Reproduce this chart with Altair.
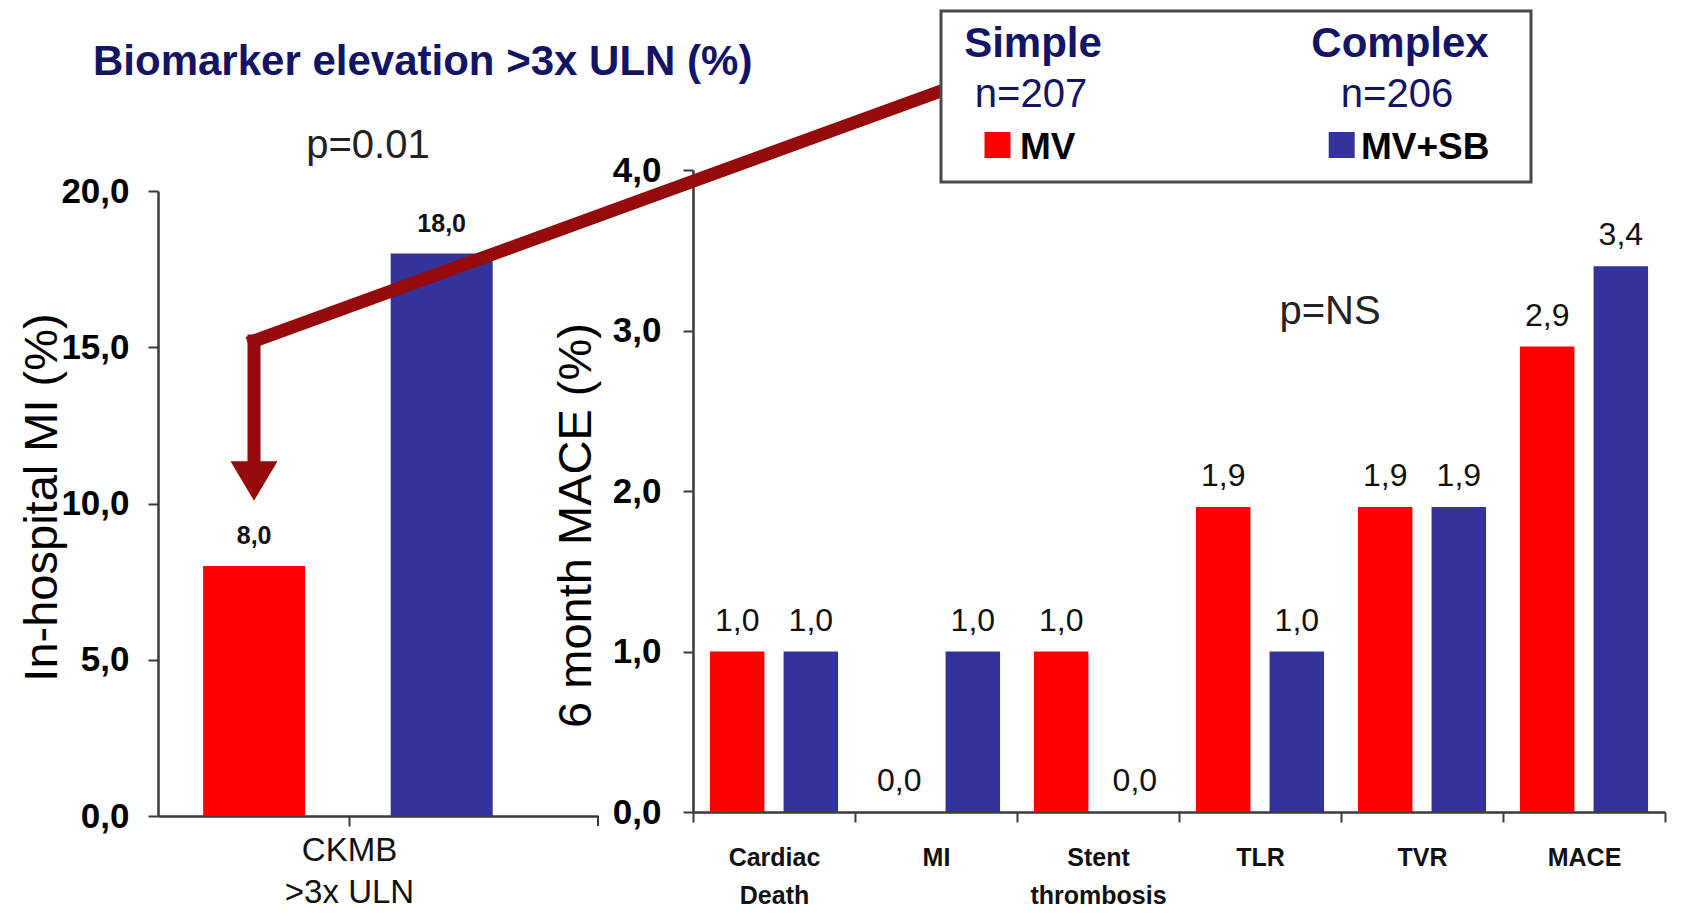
import altair as alt
import pandas as pd

# ---------------- data ----------------
groups = ["MV", "MV+SB"]
group_colors = ["#FF0000", "#333399"]

left_category = "CKMB\n>3x ULN"
left_values = [8.0, 18.0]          # MV, MV+SB

right_categories = ["Cardiac Death", "MI", "Stent thrombosis", "TLR", "TVR", "MACE"]
mv_values = [1.0, 0.0, 1.0, 1.9, 1.9, 2.9]
mvsb_values = [1.0, 1.0, 0.0, 1.0, 1.9, 3.4]

left_ticks = [0, 5, 10, 15, 20]
right_ticks = [0, 1, 2, 3, 4]

FONT = "Liberation Sans"
NARROW = "Liberation Sans Narrow, Liberation Sans"
NAVY = "#141464"
AXC = "#3a3a3a"
ARROW = "#950a0a"

left_df = pd.DataFrame({"cat": [left_category] * 2, "grp": groups, "val": left_values})
right_df = pd.DataFrame({
    "cat": right_categories * 2,
    "grp": [groups[0]] * len(right_categories) + [groups[1]] * len(right_categories),
    "val": mv_values + mvsb_values,
})

color = alt.Color("grp:N", scale=alt.Scale(domain=groups, range=group_colors), legend=None)
comma = "replace(format(datum.value, '.1f'), '.', ',')"
one = alt.Data(values=[{"k": 0}])
noview = alt.ViewBackground(stroke="transparent", strokeWidth=0)

WL, HL = 440, 646
WR, HR = 972, 642

# ---------------- left panel ----------------
lbase = alt.Chart(left_df).transform_calculate(
    lbl="replace(format(datum.val, '.1f'), '.', ',')"
).encode(
    x=alt.X("cat:N", scale=alt.Scale(paddingInner=0, paddingOuter=0),
            axis=alt.Axis(title=None, labelAngle=0, labelExpr="split(datum.label, '\\n')",
                          labelFont=FONT, labelFontSize=33, labelColor="#111",
                          labelLineHeight=42, labelPadding=8, tickOffset=-29,
                          tickSize=10, tickWidth=2, tickColor=AXC, grid=False,
                          domainColor=AXC, domainWidth=2.5)),
    xOffset=alt.XOffset("grp:N", scale=alt.Scale(domain=groups, paddingInner=0.456,
                                                  paddingOuter=0.401, align=0.3)),
    y=alt.Y("val:Q", scale=alt.Scale(domain=[0, 20], range=[HL, 21], nice=False, zero=True),
            axis=alt.Axis(values=left_ticks, labelExpr=comma, grid=False,
                          labelFont=FONT, labelFontWeight="bold", labelFontSize=35,
                          labelColor="#000", labelPadding=19,
                          tickSize=10, tickWidth=2, tickColor=AXC,
                          domainColor=AXC, domainWidth=2.5,
                          title="In-hospital MI (%)", titleFont=FONT, titleFontSize=47,
                          titleFontWeight="normal", titleColor="#000",
                          titleAngle=270, titleAlign="center", titleBaseline="middle",
                          titleX=-116, titleY=327)),
)
lbars = lbase.mark_bar().encode(color=color)
ltext = lbase.mark_text(dy=-22, baseline="alphabetic", font=FONT, fontWeight="bold",
                        fontSize=25, color="#111").encode(text="lbl:N")

lend_tick = alt.Chart(one).mark_rule(color=AXC, strokeWidth=2).encode(
    x=alt.value(WL), y=alt.value(HL), y2=alt.value(HL + 10))
lbound = alt.Chart(one).mark_rect(color="white").encode(
    x=alt.value(-149.7), x2=alt.value(-148), y=alt.value(-162), y2=alt.value(-160))
main_title = alt.Chart(one).mark_text(
    text="Biomarker elevation >3x ULN (%)", align="left", baseline="alphabetic",
    font=FONT, fontWeight="bold", fontSize=42, color=NAVY
).encode(x=alt.value(-65), y=alt.value(-95))
p_left = alt.Chart(one).mark_text(
    text="p=0.01", align="center", baseline="alphabetic", font=FONT, fontSize=40, color="#222"
).encode(x=alt.value(210), y=alt.value(-12))

left = alt.layer(lbound, lbars, ltext, lend_tick, main_title, p_left).properties(
    width=WL, height=HL, view=noview)

# ---------------- right panel ----------------
rbase = alt.Chart(right_df).transform_calculate(
    lbl="replace(format(datum.val, '.1f'), '.', ',')"
).encode(
    x=alt.X("cat:N", sort=right_categories, scale=alt.Scale(paddingInner=0, paddingOuter=0),
            axis=alt.Axis(title=None, labelAngle=0, labelExpr="split(datum.label, ' ')",
                          tickBand="extent", labelFont=FONT, labelFontWeight="bold",
                          labelFontSize=25, labelColor="#111", labelLineHeight=38,
                          labelPadding=23, tickSize=10, tickWidth=2, tickColor=AXC,
                          grid=False, domainColor=AXC, domainWidth=2.5)),
    xOffset=alt.XOffset("grp:N", scale=alt.Scale(domain=groups, paddingInner=0.26,
                                                  paddingOuter=0.23)),
    y=alt.Y("val:Q", scale=alt.Scale(domain=[0, 4], nice=False, zero=True),
            axis=alt.Axis(values=right_ticks, labelExpr=comma, grid=False,
                          labelFont=FONT, labelFontWeight="bold", labelFontSize=35,
                          labelColor="#000", labelPadding=22,
                          tickSize=10, tickWidth=2, tickColor=AXC,
                          domainColor=AXC, domainWidth=2.5,
                          title="6 month MACE (%)", titleFont=FONT, titleFontSize=47,
                          titleFontWeight="normal", titleColor="#000",
                          titleAngle=270, titleAlign="center", titleBaseline="middle",
                          titleX=-117, titleY=355)),
)
rbars = rbase.mark_bar().encode(color=color)
rtext = rbase.mark_text(dy=-21, baseline="alphabetic", font=NARROW, fontSize=32,
                        color="#111").encode(text="lbl:N")

p_right = alt.Chart(one).mark_text(
    text="p=NS", align="center", baseline="alphabetic", font=FONT, fontSize=40, color="#222"
).encode(x=alt.value(637), y=alt.value(154))

# annotation arrow (pixel positions relative to the right panel)
arrow_a = alt.Chart(one).mark_rule(color=ARROW, strokeWidth=13, strokeCap="square").encode(
    x=alt.value(248), y=alt.value(-79), x2=alt.value(-439), y2=alt.value(171))
arrow_b = alt.Chart(one).mark_rule(color=ARROW, strokeWidth=13, strokeCap="square").encode(
    x=alt.value(-439), y=alt.value(171), x2=alt.value(-439), y2=alt.value(296))
arrow_head = alt.Chart(one).mark_point(
    shape="M -1 -0.84 L 1 -0.84 L 0 0.84 Z", filled=True, color=ARROW, opacity=1, size=2209
).encode(x=alt.value(-439), y=alt.value(311))

# legend box
box = alt.Chart(one).mark_rect(fill="white", stroke="#4a4a4a", strokeWidth=3).encode(
    x=alt.value(248), x2=alt.value(838), y=alt.value(-159), y2=alt.value(12))


def ltxt(t, x, y, size, weight="normal", col=NAVY, align="center", font=FONT):
    return alt.Chart(one).mark_text(text=t, align=align, baseline="alphabetic", font=font,
                                    fontSize=size, fontWeight=weight, color=col).encode(
        x=alt.value(x), y=alt.value(y))


leg_df = pd.DataFrame({"grp": groups})
sq_mv = alt.Chart(leg_df).transform_filter(alt.datum.grp == groups[0]).mark_square(
    size=676, opacity=1).encode(x=alt.value(304.5), y=alt.value(-25), color=color)
sq_sb = alt.Chart(leg_df).transform_filter(alt.datum.grp == groups[1]).mark_square(
    size=676, opacity=1).encode(x=alt.value(648.7), y=alt.value(-25), color=color)

legend_layers = [
    box,
    ltxt("Simple", 340, -113, 42, "bold"),
    ltxt("n=207", 338, -63, 40),
    ltxt("Complex", 707, -113, 42, "bold"),
    ltxt("n=206", 704, -63, 40),
    sq_mv, sq_sb,
    ltxt("MV", 327, -11, 37, "bold", "#000", "left", NARROW),
    ltxt("MV+SB", 668, -11, 37, "bold", "#000", "left", NARROW),
]

right = alt.layer(rbars, rtext, p_right, arrow_a, arrow_b, arrow_head, *legend_layers).properties(
    width=WR, height=HR, view=noview)

chart = alt.hconcat(left, right, spacing=95, bounds="flush").resolve_scale(
    x="independent", y="independent", xOffset="independent"
).properties(
    padding={"left": 0, "top": 0, "right": 5, "bottom": 5}
).configure_view(stroke="transparent", strokeWidth=0).configure(font=FONT, background="white")

chart.save("out.html", embed_options={"renderer": "svg", "actions": False})
